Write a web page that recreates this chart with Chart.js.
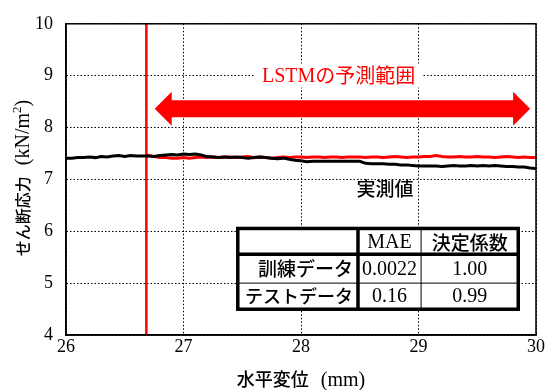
<!DOCTYPE html>
<html>
<head>
<meta charset="utf-8">
<script src="https://cdn.jsdelivr.net/npm/chart.js@4"></script>
<style>
  html, body { margin: 0; padding: 0; background: #fff; }
  #wrap { width: 548px; height: 390px; }
</style>
</head>
<body>
<div id="wrap"><canvas id="chart" width="548" height="390"></canvas></div>
<script>
// measured (black) line
const measX = [26.00, 26.05, 26.10, 26.15, 26.20, 26.25, 26.30, 26.35, 26.40, 26.45, 26.50, 26.55, 26.60, 26.65, 26.70, 26.75, 26.80, 26.85, 26.90, 26.95,
  27.00, 27.05, 27.10, 27.15, 27.20, 27.25, 27.30, 27.35, 27.40, 27.45, 27.50, 27.55, 27.60, 27.65, 27.70, 27.75, 27.80, 27.85, 27.90, 27.95,
  28.00, 28.05, 28.10, 28.15, 28.20, 28.25, 28.30, 28.35, 28.40, 28.45, 28.50, 28.55, 28.60, 28.65, 28.70, 28.75, 28.80, 28.85, 28.90, 28.95,
  29.00, 29.05, 29.10, 29.15, 29.20, 29.25, 29.30, 29.35, 29.40, 29.45, 29.50, 29.55, 29.60, 29.65, 29.70, 29.75, 29.80, 29.85, 29.90, 29.95, 30.00];
const measY = [7.41, 7.41, 7.42, 7.42, 7.43, 7.42, 7.44, 7.43, 7.45, 7.46, 7.44, 7.46, 7.45, 7.45, 7.45, 7.44, 7.46, 7.47, 7.48, 7.47,
  7.49, 7.48, 7.49, 7.47, 7.44, 7.43, 7.42, 7.43, 7.42, 7.43, 7.42, 7.41, 7.42, 7.43, 7.42, 7.41, 7.40, 7.41, 7.39, 7.37,
  7.36, 7.34, 7.35, 7.35, 7.35, 7.35, 7.35, 7.35, 7.35, 7.35, 7.35, 7.31, 7.30, 7.30, 7.30, 7.29, 7.29, 7.28, 7.28, 7.27,
  7.26, 7.26, 7.26, 7.26, 7.25, 7.26, 7.27, 7.26, 7.26, 7.27, 7.26, 7.27, 7.26, 7.27, 7.26, 7.25, 7.25, 7.24, 7.24, 7.22, 7.21];
// LSTM prediction (red) line
const predX = [26.684, 26.70, 26.75, 26.80, 26.85, 26.90, 26.95,
  27.00, 27.05, 27.10, 27.15, 27.20, 27.25, 27.30, 27.35, 27.40, 27.45, 27.50, 27.55, 27.60, 27.65, 27.70, 27.75, 27.80, 27.85, 27.90, 27.95,
  28.00, 28.05, 28.10, 28.15, 28.20, 28.25, 28.30, 28.35, 28.40, 28.45, 28.50, 28.55, 28.60, 28.65, 28.70, 28.75, 28.80, 28.85, 28.90, 28.95,
  29.00, 29.05, 29.10, 29.15, 29.20, 29.25, 29.30, 29.35, 29.40, 29.45, 29.50, 29.55, 29.60, 29.65, 29.70, 29.75, 29.80, 29.85, 29.90, 29.95, 30.00];
const predY = [7.47, 7.46, 7.44, 7.42, 7.42, 7.41, 7.41,
  7.42, 7.41, 7.42, 7.43, 7.42, 7.43, 7.42, 7.43, 7.43, 7.42, 7.43, 7.44, 7.42, 7.43, 7.42, 7.41, 7.42, 7.43, 7.42, 7.43,
  7.43, 7.42, 7.43, 7.43, 7.42, 7.43, 7.43, 7.42, 7.43, 7.43, 7.43, 7.42, 7.43, 7.43, 7.42, 7.43, 7.44, 7.43, 7.42, 7.43,
  7.43, 7.44, 7.44, 7.46, 7.44, 7.43, 7.43, 7.44, 7.43, 7.43, 7.44, 7.43, 7.43, 7.42, 7.43, 7.44, 7.43, 7.42, 7.43, 7.42, 7.42];
// start of prediction range, arrow and labels (data units)
const splitX = 26.684;
const arrowFrom = 26.755, arrowTo = 29.95, arrowY = 8.36;
const rangeLabel = ['LSTM', 'の予測範囲'];
const rangeLabelPos = [28.32, 9];
const measLabel = '実測値';
const measLabelPos = [28.715, 6.82];
// table
const tableHead = ['', 'MAE', '決定係数'];
const tableRows = [
  ['訓練データ', '0.0022', '1.00'],
  ['テストデータ', '0.16', '0.99']
];
const tableCols = [27.462, 28.485, 29.022, 29.849];
const tableLines = [6.054, 5.555, 5.0, 4.497];

const serif = "'Liberation Serif', 'Times New Roman', serif";
const jp = "'Noto Sans CJK JP', sans-serif";

// draws runs of [text, font, raise, gapAfter] side by side, centered on 0
function drawRuns(ctx, runs) {
  let total = 0;
  runs.forEach(r => { ctx.font = r[1]; r.w = ctx.measureText(r[0]).width; total += r.w + (r[3] || 0); });
  let x = -total / 2;
  runs.forEach(r => {
    ctx.font = r[1];
    ctx.fillText(r[0], x, r[2]);
    x += r.w + (r[3] || 0);
  });
}

const annot = {
  id: 'annot',
  afterDraw(chart) {
    const ctx = chart.ctx, xs = chart.scales.x, ys = chart.scales.y, a = chart.chartArea;
    ctx.save();
    // arrow
    const x0 = xs.getPixelForValue(arrowFrom), x1 = xs.getPixelForValue(arrowTo), yc = ys.getPixelForValue(arrowY);
    const bh = 8.5, hh = 17, hl = 17;
    ctx.fillStyle = '#ff0000';
    ctx.beginPath();
    ctx.moveTo(x0, yc);
    ctx.lineTo(x0 + hl, yc - hh);
    ctx.lineTo(x0 + hl, yc - bh);
    ctx.lineTo(x1 - hl, yc - bh);
    ctx.lineTo(x1 - hl, yc - hh);
    ctx.lineTo(x1, yc);
    ctx.lineTo(x1 - hl, yc + hh);
    ctx.lineTo(x1 - hl, yc + bh);
    ctx.lineTo(x0 + hl, yc + bh);
    ctx.lineTo(x0 + hl, yc + hh);
    ctx.closePath();
    ctx.fill();

    // LSTM label with white box
    const tx = xs.getPixelForValue(rangeLabelPos[0]), ty = ys.getPixelForValue(rangeLabelPos[1]);
    ctx.font = '20px ' + serif;
    const w1 = ctx.measureText(rangeLabel[0]).width;
    ctx.font = '20px ' + jp;
    const w2 = ctx.measureText(rangeLabel[1]).width;
    const tw = w1 + w2;
    ctx.fillStyle = '#fff';
    ctx.fillRect(tx - tw / 2 - 7, ty - 12, tw + 14, 24);
    ctx.fillStyle = '#ff0000';
    ctx.textBaseline = 'middle';
    ctx.textAlign = 'left';
    ctx.font = '20px ' + serif;
    ctx.fillText(rangeLabel[0], tx - tw / 2, ty + 1);
    ctx.font = '20px ' + jp;
    ctx.fillText(rangeLabel[1], tx - tw / 2 + w1, ty);

    // measured label
    ctx.fillStyle = '#000';
    ctx.font = '500 19px ' + jp;
    ctx.textAlign = 'center';
    ctx.fillText(measLabel, xs.getPixelForValue(measLabelPos[0]), ys.getPixelForValue(measLabelPos[1]));

    // table
    const cx = tableCols.map(v => xs.getPixelForValue(v));
    const ry = tableLines.map(v => ys.getPixelForValue(v));
    const L = cx[0], C1 = cx[1], C2 = cx[2], R = cx[3];
    const T = ry[0], r1 = ry[1], r2 = ry[2], B = ry[3];
    ctx.fillStyle = '#fff';
    ctx.fillRect(L, T, R - L, B - T);
    ctx.strokeStyle = '#000';
    ctx.lineWidth = 1;
    ctx.beginPath();
    ctx.moveTo(C2, T); ctx.lineTo(C2, B);
    ctx.moveTo(L, r2); ctx.lineTo(R, r2);
    ctx.stroke();
    ctx.lineWidth = 3.5;
    ctx.strokeRect(L, T, R - L, B - T);
    ctx.beginPath();
    ctx.moveTo(C1, T); ctx.lineTo(C1, B);
    ctx.moveTo(L, r1); ctx.lineTo(R, r1);
    ctx.stroke();
    const rowsY = [(T + r1) / 2, (r1 + r2) / 2, (r2 + B) / 2];
    const cells = [tableHead].concat(tableRows);
    ctx.fillStyle = '#000';
    cells.forEach((row, i) => {
      ctx.textAlign = 'right';
      ctx.font = (i === 2 ? '500 18px ' : '500 19px ') + jp;
      ctx.fillText(row[0], C1 - 5, rowsY[i]);
      ctx.textAlign = 'center';
      ctx.font = '20px ' + serif;
      ctx.fillText(row[1], (C1 + C2) / 2, rowsY[i] + 1);
      ctx.font = (i === 0 ? '500 19px ' + jp : '20px ' + serif);
      ctx.fillText(row[2], (C2 + R) / 2, rowsY[i] + 1);
    });

    // plot frame
    ctx.lineWidth = 1.5;
    ctx.strokeStyle = '#000';
    ctx.strokeRect(a.left, a.top, a.right - a.left, a.bottom - a.top);

    // axis titles
    ctx.textAlign = 'left';
    ctx.textBaseline = 'alphabetic';
    ctx.save();
    ctx.translate(301, 386);
    drawRuns(ctx, [
      ['水平変位', '500 18px ' + jp, 0, 12],
      ['(mm)', '20px ' + serif, 0]
    ]);
    ctx.restore();
    ctx.save();
    ctx.translate(29, 178);
    ctx.rotate(-Math.PI / 2);
    drawRuns(ctx, [
      ['せん断応力', '500 16px ' + jp, 0, 11],
      ['(kN/m', '20px ' + serif, 0],
      ['2', '13px ' + serif, -8],
      [')', '20px ' + serif, 0]
    ]);
    ctx.restore();
    ctx.restore();
  }
};

const gridStyle = {
  color: '#000',
  lineWidth: 1,
  drawTicks: false
};

new Chart(document.getElementById('chart'), {
  type: 'line',
  data: {
    datasets: [
      {
        data: measX.map((x, i) => ({ x: x, y: measY[i] })),
        borderColor: '#000',
        borderWidth: 3,
        pointRadius: 0,
        tension: 0
      },
      {
        data: predX.map((x, i) => ({ x: x, y: predY[i] })),
        borderColor: '#ff0000',
        borderWidth: 3,
        pointRadius: 0,
        tension: 0
      },
      {
        data: [{ x: splitX, y: 4 }, { x: splitX, y: 10 }],
        borderColor: '#ff0000',
        borderWidth: 2.5,
        pointRadius: 0
      }
    ]
  },
  options: {
    responsive: false,
    animation: false,
    layout: { padding: { top: 22, right: 12, left: 0, bottom: 0 } },
    plugins: { legend: { display: false }, tooltip: { enabled: false } },
    scales: {
      x: {
        type: 'linear',
        min: 26, max: 30,
        ticks: { stepSize: 1, color: '#000', padding: 1, font: { family: serif, size: 18 } },
        grid: gridStyle,
        border: { display: true, color: '#000', width: 1.5, dash: [1.5, 2] },
        afterFit(s) { s.height = 55; }
      },
      y: {
        min: 4, max: 10,
        ticks: { stepSize: 1, color: '#000', padding: 13, font: { family: serif, size: 18 } },
        grid: gridStyle,
        border: { display: true, color: '#000', width: 1.5, dash: [1.5, 2] },
        afterFit(s) { s.width = 66; }
      }
    }
  },
  plugins: [annot]
});
</script>
</body>
</html>
